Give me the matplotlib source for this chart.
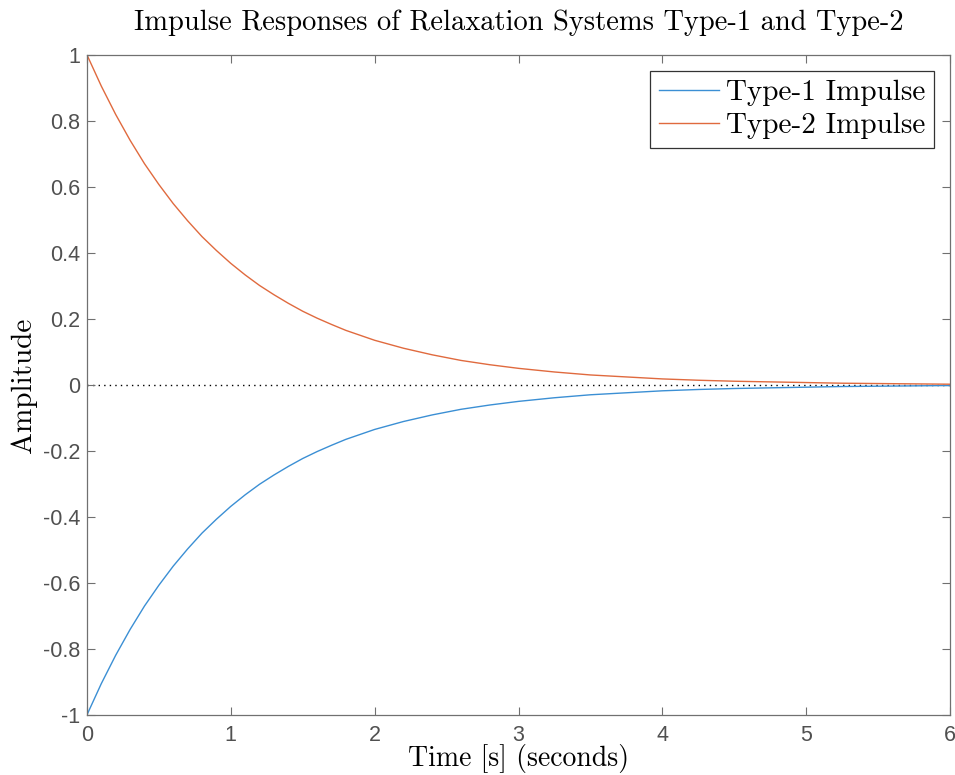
import matplotlib
matplotlib.use("Agg")
import matplotlib.pyplot as plt
from matplotlib.font_manager import FontProperties

# Impulse response samples (time in seconds)
time_s = [0.0, 0.1, 0.2, 0.3, 0.4, 0.5, 0.6, 0.7, 0.8, 0.9, 1.0, 1.1, 1.2, 1.3, 1.4,
          1.5, 1.6, 1.7, 1.8, 1.9, 2.0, 2.2, 2.4, 2.6, 2.8, 3.0, 3.25, 3.5, 3.75, 4.0,
          4.25, 4.5, 4.75, 5.0, 5.25, 5.5, 5.75, 6.0]
type2_impulse = [1.000, 0.905, 0.819, 0.741, 0.670, 0.607, 0.549, 0.497, 0.449, 0.407,
                 0.368, 0.333, 0.301, 0.273, 0.247, 0.223, 0.202, 0.183, 0.165, 0.150,
                 0.135, 0.111, 0.091, 0.074, 0.061, 0.050, 0.039, 0.030, 0.024, 0.018,
                 0.014, 0.011, 0.009, 0.007, 0.005, 0.004, 0.003, 0.002]
type1_impulse = [-1.000, -0.905, -0.819, -0.741, -0.670, -0.607, -0.549, -0.497, -0.449, -0.407,
                 -0.368, -0.333, -0.301, -0.273, -0.247, -0.223, -0.202, -0.183, -0.165, -0.150,
                 -0.135, -0.111, -0.091, -0.074, -0.061, -0.050, -0.039, -0.030, -0.024, -0.018,
                 -0.014, -0.011, -0.009, -0.007, -0.005, -0.004, -0.003, -0.002]
x_ticks = [0, 1, 2, 3, 4, 5, 6]
y_ticks = [-1, -0.8, -0.6, -0.4, -0.2, 0, 0.2, 0.4, 0.6, 0.8, 1]
y_tick_labels = ["-1", "-0.8", "-0.6", "-0.4", "-0.2", "0", "0.2", "0.4", "0.6", "0.8", "1"]

serif = FontProperties(family="cmr10")
tick_font = "Liberation Sans"
axis_gray = "#707070"
tick_gray = "#505050"

fig = plt.figure(figsize=(9.55, 7.75), dpi=100)
ax = fig.add_axes([0.091, 0.0774, 0.904, 0.852])

ax.plot(time_s, type1_impulse, color="#3b8fd4", lw=1.0, label="Type-1 Impulse")
ax.plot(time_s, type2_impulse, color="#e06a3e", lw=1.0, label="Type-2 Impulse")
ax.axhline(0, color="black", lw=1.0, ls=(0, (1, 3)), zorder=1)

ax.set_xlim(0, 6)
ax.set_ylim(-1, 1)
ax.set_xticks(x_ticks)
ax.set_xticklabels([str(v) for v in x_ticks])
ax.set_yticks(y_ticks)
ax.set_yticklabels(y_tick_labels)
ax.tick_params(direction="in", top=True, right=True, length=6, width=0.8,
               color=axis_gray, labelcolor=tick_gray, labelsize=15.5)
ax.tick_params(axis="x", pad=7)
ax.tick_params(axis="y", pad=5)
for lab in ax.get_xticklabels() + ax.get_yticklabels():
    lab.set_fontfamily(tick_font)
for sp in ax.spines.values():
    sp.set_color(axis_gray)
    sp.set_linewidth(0.9)

ax.set_title("Impulse Responses of Relaxation Systems Type-1 and Type-2",
             fontproperties=serif, fontsize=20.5, pad=18)
ax.set_xlabel("Time [s] (seconds)", fontproperties=serif, fontsize=20, labelpad=-1)
ax.set_ylabel("Amplitude", fontproperties=serif, fontsize=21, labelpad=4)

leg = ax.legend(loc="upper right", prop=FontProperties(family="cmr10", size=21),
                frameon=True, fancybox=False, framealpha=1, edgecolor="#333333",
                handlelength=2.05, borderaxespad=0.55, handletextpad=0.25,
                borderpad=0.3, labelspacing=0.22)
leg.get_frame().set_linewidth(0.9)

fig.savefig("out.png", dpi=100)
